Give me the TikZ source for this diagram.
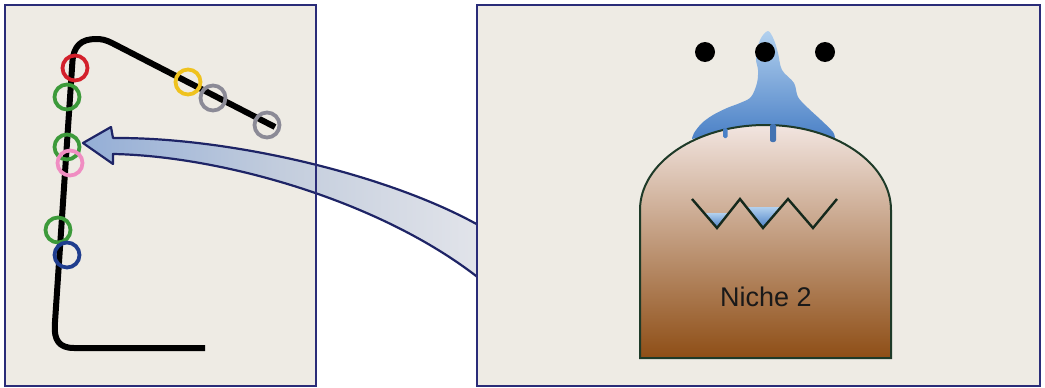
\documentclass[tikz,border=0pt]{standalone}
\usepackage{fontspec}
\setmainfont{Liberation Sans}
\definecolor{panel}{HTML}{EEEBE4}
\definecolor{frame}{HTML}{2A2C78}
\definecolor{ringred}{HTML}{D3202B}
\definecolor{ringgreen}{HTML}{3C9A3A}
\definecolor{ringpink}{HTML}{F08DC2}
\definecolor{ringblue}{HTML}{1F3D8E}
\definecolor{ringyellow}{HTML}{EFC21E}
\definecolor{ringgray}{HTML}{8B8A96}
\definecolor{arrowhead}{HTML}{94AED6}
\definecolor{arrowmid}{HTML}{C3CDDD}
\definecolor{arrowtail}{HTML}{E2E4EA}
\definecolor{arrowline}{HTML}{1E2466}
\definecolor{nichetop}{HTML}{F2E5E0}
\definecolor{nichemid}{HTML}{CDA285}
\definecolor{nichebot}{HTML}{8E4E16}
\definecolor{nicheline}{HTML}{1E3A28}
\definecolor{watertop}{HTML}{B2D0EE}
\definecolor{waterbot}{HTML}{4A80C6}
\tikzset{
  panelbox/.style={fill=panel},
  panelframe/.style={draw=frame, line width=2pt},
  ring/.style={draw=#1, line width=3.8pt, fill=none},
  wire/.style={draw=black, line width=6pt, line cap=butt, line join=round},
  bigarrow/.style={draw=arrowline, line width=2.2pt, line join=round,
    left color=arrowhead, right color=arrowtail, middle color=arrowmid},
  hole/.style={fill=black},
  water/.style={top color=watertop, bottom color=waterbot},
  zig/.style={draw=nicheline!70!black, line width=2.4pt, line join=miter},
}
\begin{document}
\begin{tikzpicture}[x=1pt, y=-1pt]
  \useasboundingbox (0,0) rectangle (1045,388);
  \fill[white] (0,0) rectangle (1045,388);

  % left panel: wire with marker rings
  \path[panelbox] (5,5) rectangle (316,386);
  \coordinate (wirestart) at (205,348);
  \coordinate (wireend) at (275,127);
  \draw[wire] (wirestart) -- (74,348)
     .. controls (59,348) and (54,340) .. (54.8,325)
     -- (72.4,62)
     .. controls (73.5,46) and (81,39) .. (96,39)
     .. controls (102,39) and (106,40) .. (112,43)
     -- (wireend);
  \node[circle, ring=ringred,    minimum size=25pt, inner sep=0pt] (r1) at (75,68) {};
  \node[circle, ring=ringgreen,  minimum size=25pt, inner sep=0pt] (g1) at (67,97) {};
  \node[circle, ring=ringgreen,  minimum size=25pt, inner sep=0pt] (g2) at (67,147) {};
  \node[circle, ring=ringpink,   minimum size=25pt, inner sep=0pt] (p1) at (70,163) {};
  \node[circle, ring=ringgreen,  minimum size=25pt, inner sep=0pt] (g3) at (58,230) {};
  \node[circle, ring=ringblue,   minimum size=25pt, inner sep=0pt] (b1) at (67,255) {};
  \node[circle, ring=ringyellow, minimum size=25pt, inner sep=0pt] (y1) at (188,82) {};
  \node[circle, ring=ringgray,   minimum size=25pt, inner sep=0pt] (s1) at (213,98) {};
  \node[circle, ring=ringgray,   minimum size=25pt, inner sep=0pt] (s2) at (267,125) {};

  % curved block arrow from the niche back to the wire
  \path[bigarrow] (480,226) .. controls (390,175) and (230,137) .. (113,138)
     -- (111,127) -- (83,143) -- (113,164) -- (113,154)
     .. controls (220,156) and (380,200) .. (480,279) -- cycle;
  \path[panelframe] (5,5) rectangle (316,386);

  % right panel
  \path[panelbox, panelframe] (477,5) rectangle (1040,386);

  % niche body
  \shade[top color=nichetop, middle color=nichemid, bottom color=nichebot]
    (640,358) -- (640,210) arc[start angle=180, end angle=360, x radius=125.5, y radius=85]
    -- (891,358) -- cycle;

  % water seeping from the middle hole over the dome
  \shade[water] plot[smooth, tension=0.55] coordinates {
      (692,139) (694,133) (702,123) (713,115) (727,108) (740,103) (751,97)
      (757,83) (758,70) (756,58) (760,40) (768,31) (774,40) (778,53)
      (782,70) (794,83) (798,97) (808,108) (821,120) (833,132) (835,139)}
    -- (832,138) -- (810,130.5) -- (790,126.7) -- (765,125) -- (740,126.7)
    -- (720,130.7) -- (700,137.3) -- cycle;

  % dome outline
  \draw[draw=nicheline, line width=2pt]
    (640,358) -- (640,210) arc[start angle=180, end angle=360, x radius=125.5, y radius=85]
    -- (891,358) -- cycle;

  % drips below the dome
  \fill[waterbot, rounded corners=1.5pt] (723,128) rectangle (727.5,138);
  \fill[waterbot!90!black, rounded corners=2pt] (770,124) rectangle (776,142);

  % holes
  \fill[hole] (705,52) circle (10);
  \fill[hole] (765,52) circle (10);
  \fill[hole] (825,52) circle (10);

  % zigzag with pooled water
  \fill[water] (704,213) -- (729,213) -- (717,228) -- cycle;
  \fill[water] (746,207) -- (780,207) -- (763,228) -- cycle;
  \draw[zig] (692,199) -- (717,228) -- (740,199) -- (763,228) -- (788,199) -- (813,228) -- (837,199);

  \node[text=black!90, font=\fontsize{27}{32}\selectfont] (label) at (766,297) {Niche 2};
\end{tikzpicture}
\end{document}
